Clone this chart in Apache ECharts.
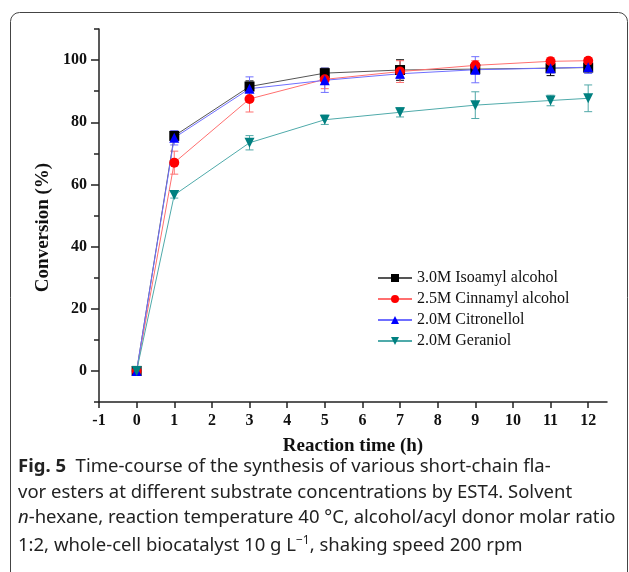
<!DOCTYPE html>
<html>
<head>
<meta charset="utf-8">
<script src="https://cdn.jsdelivr.net/npm/echarts@6/dist/echarts.min.js"></script>
<style>
  html, body { margin: 0; padding: 0; background: #fff; }
  #chart { width: 629px; height: 572px; }
</style>
</head>
<body>
<div id="chart"></div>
<script>
// reaction times (h)
var times = [0, 1, 3, 5, 7, 9, 11, 12];

// conversion (%) and error bars
var isoamyl = [0, 75.6, 91.5, 95.8, 96.8, 97.1, 97.4, 97.6];
var isoamylErr = [0, 1.3, 1.8, 1.6, 3.3, 1.2, 2.4, 1.0];
var cinnamyl = [0, 67.0, 87.5, 93.8, 96.3, 98.3, 99.6, 99.8];
var cinnamylErr = [0, 3.7, 4.2, 3.0, 3.5, 1.5, 1.2, 1.0];
var citronellol = [0, 75.0, 90.8, 93.5, 95.6, 96.9, 97.4, 97.7];
var citronellolErr = [0, 2.3, 3.8, 3.9, 1.5, 4.2, 1.5, 2.0];
var geraniol = [0, 56.6, 73.4, 80.8, 83.2, 85.5, 87.0, 87.7];
var geraniolErr = [0, 1.0, 2.3, 1.5, 1.5, 4.3, 1.7, 4.3];

var seriesNames = ['3.0M Isoamyl alcohol', '2.5M Cinnamyl alcohol', '2.0M Citronellol', '2.0M Geraniol'];

var xTicks = [-1, 0, 1, 2, 3, 4, 5, 6, 7, 8, 9, 10, 11, 12];
var yMajor = [0, 20, 40, 60, 80, 100];
var yMinor = [-10, 10, 30, 50, 70, 90, 110];

var captionLines = [
  '{b|Fig. 5}  Time-course of the synthesis of various short-chain fla-',
  'vor esters at different substrate concentrations by EST4. Solvent',
  '{i|n}-hexane, reaction temperature 40 °C, alcohol/acyl donor molar ratio',
  '1:2, whole-cell biocatalyst 10 g L{sup|\u22121}, shaking speed 200 rpm'
];

var serif = '"Liberation Serif", "Times New Roman", serif';
var sans = '"Noto Sans", "Open Sans", sans-serif';

function zip(vals) {
  return times.map(function (t, i) { return [t, vals[i]]; });
}
function errData(vals, errs) {
  var out = [];
  times.forEach(function (t, i) {
    if (errs[i] > 0) out.push([t, vals[i] - errs[i], vals[i] + errs[i]]);
  });
  return out;
}

function errSeries(vals, errs, color) {
  return {
    type: 'custom',
    data: errData(vals, errs),
    encode: { x: 0, y: [1, 2] },
    silent: true,
    z: 3,
    renderItem: function (params, api) {
      var x = api.value(0);
      var top = api.coord([x, api.value(2)]);
      var bot = api.coord([x, api.value(1)]);
      var w = 4;
      var st = { stroke: color, lineWidth: 1 };
      return {
        type: 'group',
        children: [
          { type: 'line', shape: { x1: top[0], y1: top[1], x2: bot[0], y2: bot[1] }, style: st },
          { type: 'line', shape: { x1: top[0] - w, y1: top[1], x2: top[0] + w, y2: top[1] }, style: st },
          { type: 'line', shape: { x1: bot[0] - w, y1: bot[1], x2: bot[0] + w, y2: bot[1] }, style: st }
        ]
      };
    }
  };
}

function lineSeries(name, vals, color, lineColor, symbol, rotate) {
  return {
    name: name,
    type: 'line',
    data: zip(vals),
    symbol: symbol,
    symbolSize: 10,
    symbolRotate: rotate || 0,
    z: 4,
    itemStyle: { color: color },
    lineStyle: { color: lineColor, width: 1 }
  };
}

var chart = echarts.init(document.getElementById('chart'));

var axisLineStyle = { color: '#222', width: 1.5 };

chart.setOption({
  animation: false,
  grid: { left: 99, right: 22, top: 29, bottom: 170 },
  legend: {
    data: seriesNames,
    orient: 'vertical',
    left: 372,
    top: 265,
    itemWidth: 34,
    itemHeight: 10,
    itemGap: 5,
    textStyle: { fontFamily: serif, fontSize: 16, color: '#111' }
  },
  xAxis: {
    type: 'value',
    min: -1,
    max: 12.5,
    interval: 1,
    name: 'Reaction time (h)',
    nameLocation: 'middle',
    nameGap: 35,
    nameTextStyle: { fontFamily: serif, fontSize: 19, fontWeight: 'bold', color: '#111' },
    axisLine: { show: true, onZero: false, lineStyle: axisLineStyle },
    axisTick: { show: true, length: 6, inside: false, lineStyle: axisLineStyle, customValues: xTicks },
    axisLabel: {
      margin: 11,
      customValues: xTicks,
      fontFamily: serif, fontSize: 16, fontWeight: 'bold', color: '#111'
    },
    splitLine: { show: false }
  },
  yAxis: [{
    type: 'value',
    min: -10,
    max: 110,
    interval: 10,
    name: 'Conversion (%)',
    nameLocation: 'middle',
    nameGap: 46,
    nameTextStyle: {
      fontFamily: serif, fontSize: 19, fontWeight: 'bold', color: '#111',
      padding: [0, 24, 0, 0]
    },
    axisLine: { show: true, onZero: false, lineStyle: axisLineStyle },
    axisTick: { show: true, length: 8, lineStyle: axisLineStyle, customValues: yMajor },
    axisLabel: {
      margin: 12,
      customValues: yMajor,
      fontFamily: serif, fontSize: 16, fontWeight: 'bold', color: '#111'
    },
    splitLine: { show: false }
  }, {
    type: 'value',
    position: 'left',
    min: -10,
    max: 110,
    interval: 10,
    axisLine: { show: false, onZero: false },
    axisTick: { show: true, length: 5, lineStyle: axisLineStyle, customValues: yMinor },
    axisLabel: { show: false },
    splitLine: { show: false }
  }],
  series: [
    lineSeries(seriesNames[0], isoamyl, '#000000', '#555555', 'rect'),
    errSeries(isoamyl, isoamylErr, '#000000'),
    lineSeries(seriesNames[1], cinnamyl, '#ff0000', '#ff6f6f', 'circle'),
    errSeries(cinnamyl, cinnamylErr, '#ff7070'),
    lineSeries(seriesNames[2], citronellol, '#0000ff', '#6f6fff', 'triangle'),
    errSeries(citronellol, citronellolErr, '#7070ff'),
    lineSeries(seriesNames[3], geraniol, '#008080', '#4faaaa', 'triangle', 180),
    errSeries(geraniol, geraniolErr, '#50a8a8')
  ],
  graphic: [
    {
      type: 'rect',
      silent: true,
      shape: { x: 10.5, y: 12.5, width: 617, height: 700, r: 9 },
      style: { fill: 'none', stroke: '#444', lineWidth: 1 }
    }
  ].concat(captionLines.map(function (line, i) {
    return {
      type: 'text',
      silent: true,
      left: 18,
      top: 457 + i * 25.8,
      style: {
        text: line,
        fontFamily: sans,
        fontSize: 18.5,
        fill: '#222',
        rich: {
          b: { fontFamily: sans, fontSize: 18.5, fontWeight: 'bold', fill: '#222' },
          i: { fontFamily: sans, fontSize: 18.5, fontStyle: 'italic', fill: '#222' },
          sup: { fontFamily: sans, fontSize: 12, fill: '#222', padding: [0, 0, 10, 0] }
        }
      }
    };
  }))
});
</script>
</body>
</html>
